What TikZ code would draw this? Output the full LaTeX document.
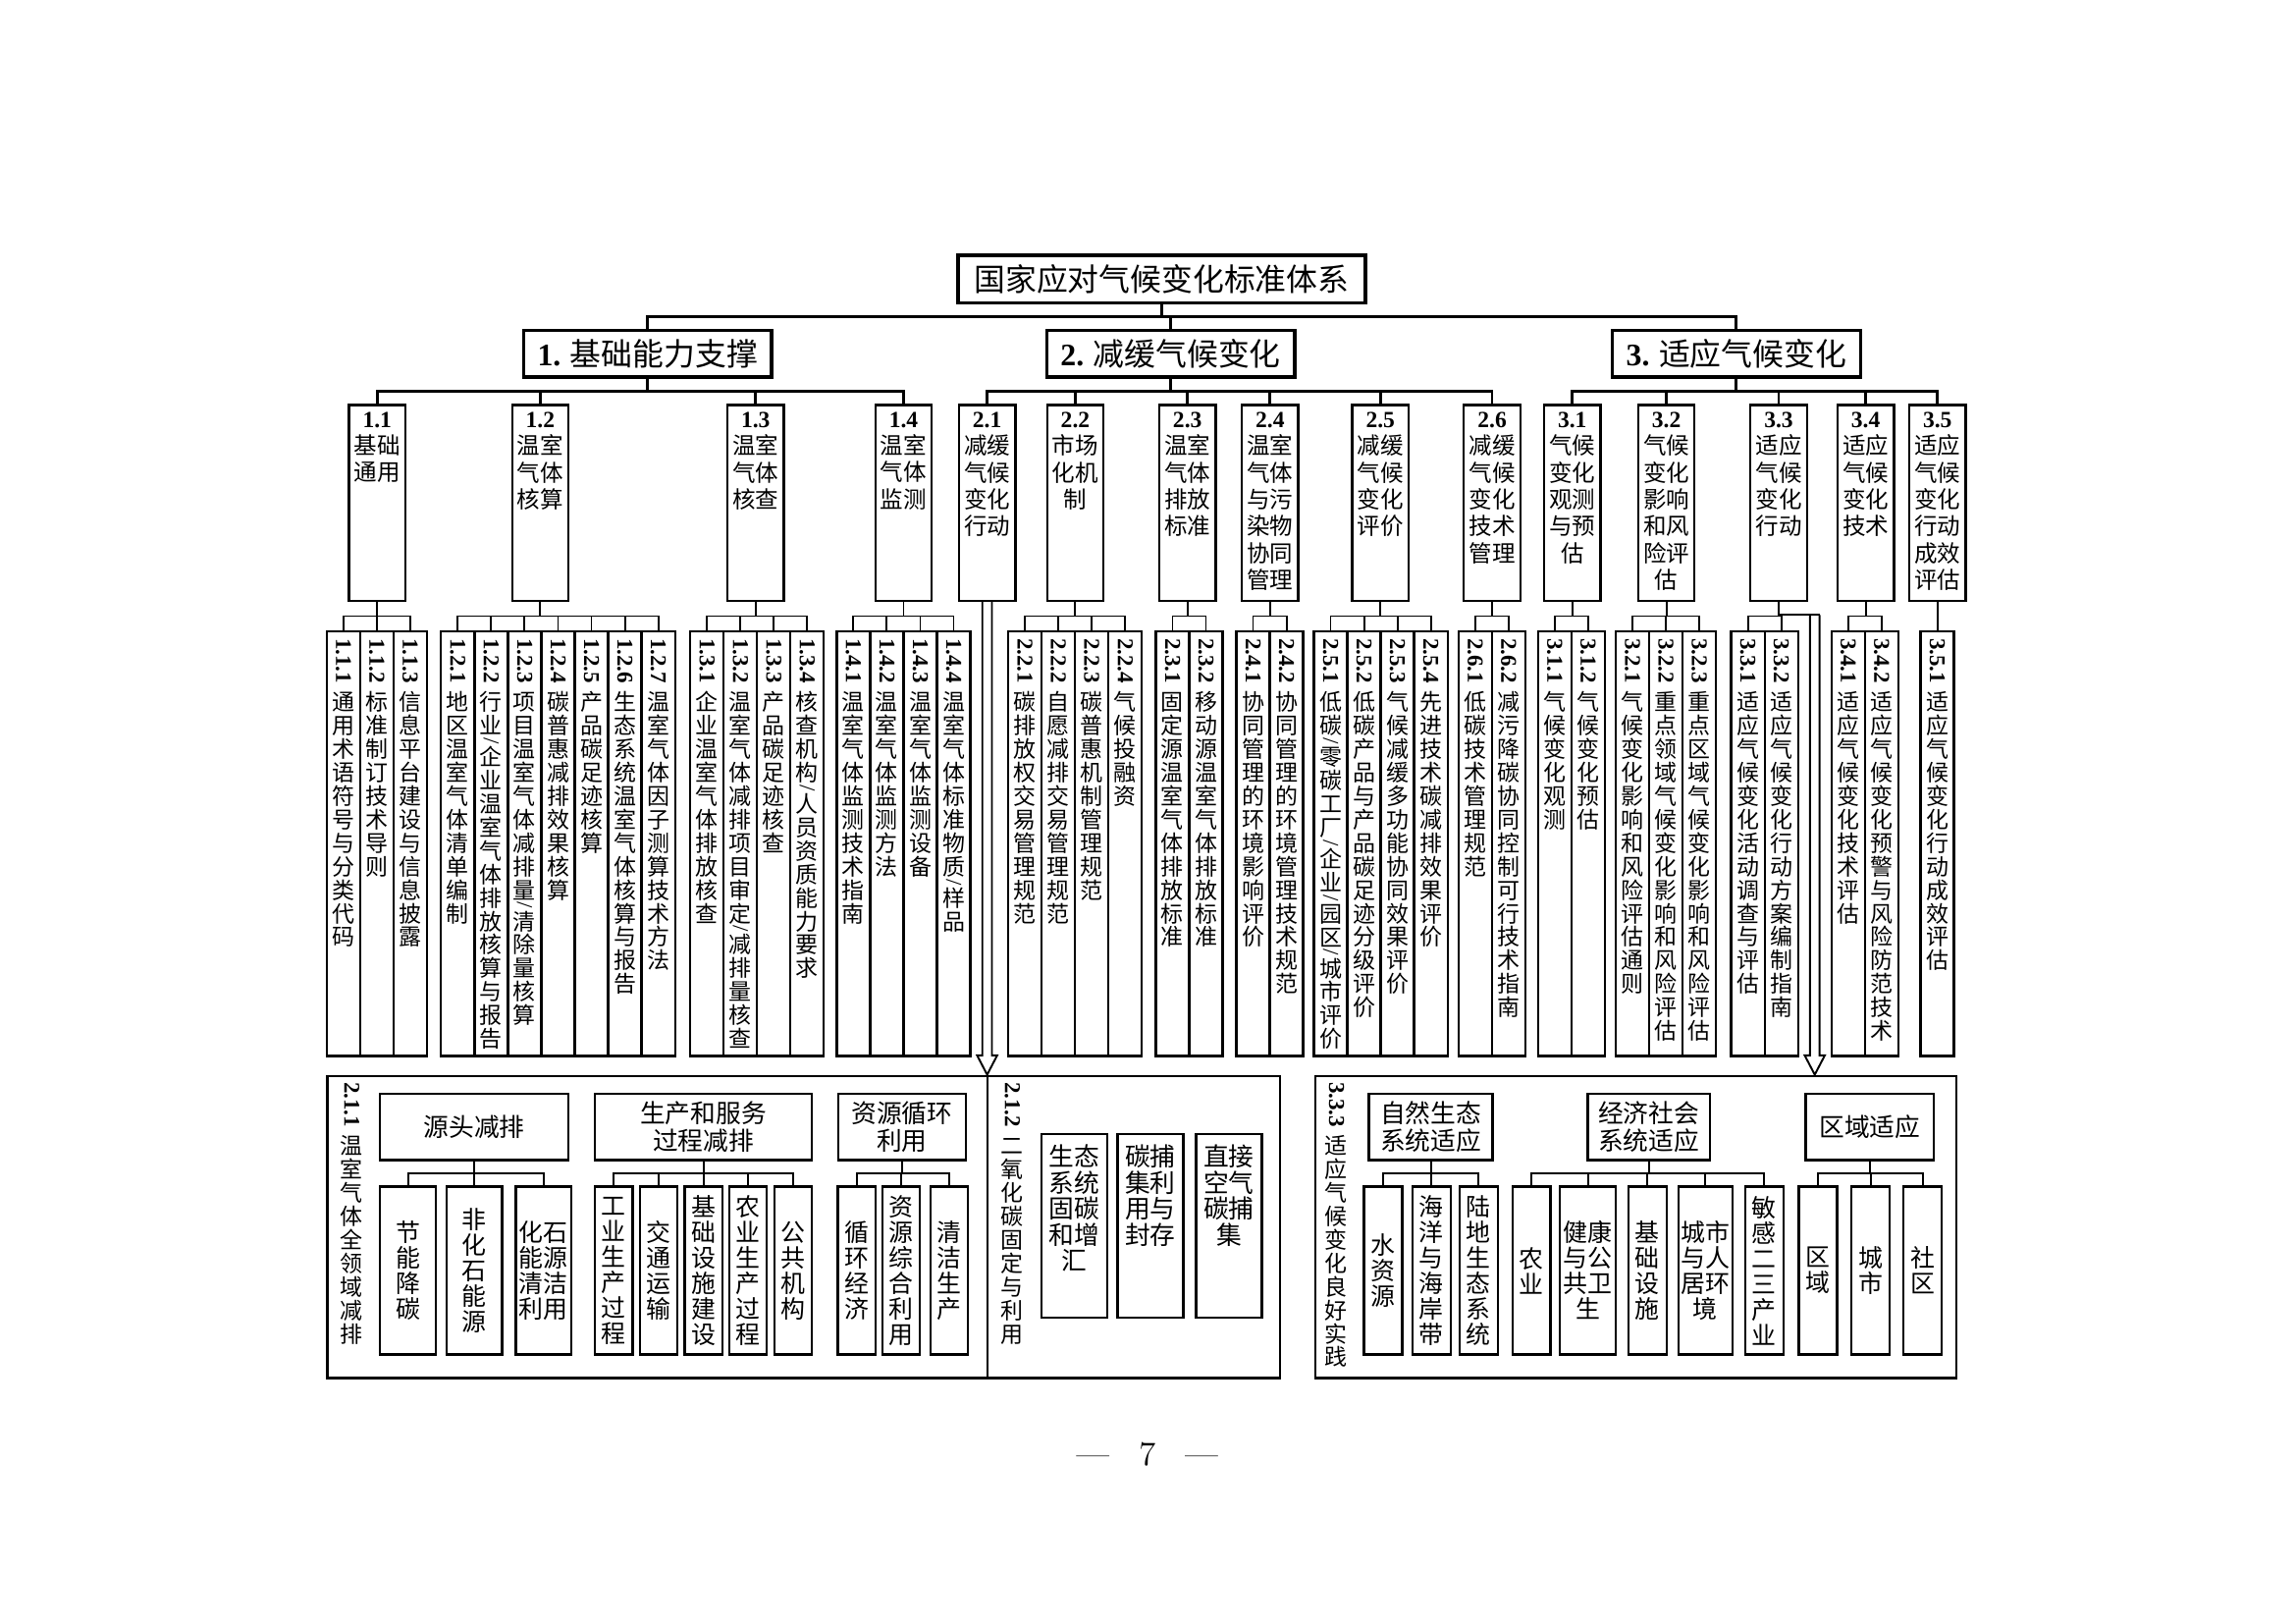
\documentclass[tikz,border=0pt]{standalone}
\usepackage{fontspec}
\usepackage{graphicx}
\newfontfamily\cjk{Noto Sans CJK SC}
\newfontfamily\numfont{Liberation Serif}
\usetikzlibrary{calc}

% vertical text: one glyph per line, numbers turned
\makeatletter
\def\vstack@#1{\ifx\@nil#1\else\ifx|#1\vslash\else\vcell{#1}\fi\expandafter\vstack@\fi}
\newcommand\vcell[1]{\hbox to 1.15em{\hss\vrule width0pt height.91em depth.13em\relax#1\hss}}
\newcommand\vslash{\hbox to 1.15em{\hss\vbox to .35em{\vss\hbox{\numfont\rotatebox{-90}{/}}\vss}\hss}}
\newcommand\vnum[1]{\hbox to 1.15em{\hss\rotatebox{-90}{\numfont\bfseries #1}\hss}}
\newcommand\vtitle[2]{\vbox{\offinterlineskip\kern.5mm\vnum{#1}\kern.3em\expandafter\vstack@#2\@nil}}
\newcommand\leaftext[2]{\vbox to 54.1mm{\vtitle{#1}{#2}\vss}}
\makeatother
\newcommand\subtext[2]{\vbox to 24.5mm{\hsize=6.4mm\parindent=0pt\centering\kern.5mm{\numfont\bfseries #1}\\#2\par\vss}}
\newcommand\toptext[1]{\vbox to 23mm{\hsize=2.1em\parindent=0pt\centering\kern1mm #1\par\vss}}
\newcommand\hollowarrow[2]{\draw[line width=.7pt] ([xshift=-.62mm]#1) -- ([xshift=-.62mm,yshift=2.5mm]#2) -- ([xshift=-1.3mm,yshift=2.5mm]#2) -- (#2) -- ([xshift=1.3mm,yshift=2.5mm]#2) -- ([xshift=.62mm,yshift=2.5mm]#2) -- ([xshift=.62mm]#1);}

\begin{document}
\begin{tikzpicture}[x=0.19038mm, y=-0.19038mm,
 rootbox/.style={draw, line width=1.2pt, minimum width=52.7mm, minimum height=6.15mm, inner sep=0pt, font=\cjk\fontsize{11.5}{13}\selectfont},
 groupbox/.style={draw, line width=1.2pt, minimum width=32.1mm, minimum height=6.05mm, inner sep=0pt, font=\cjk\fontsize{11.5}{13}\selectfont},
 subbox/.style={draw, line width=.8pt, anchor=north, minimum width=7.31mm, inner sep=.4mm, font=\cjk\fontsize{8.5}{9.9}\selectfont},
 leaf/.style={draw, line width=.8pt, anchor=north, minimum width=4.32mm, inner sep=.4mm, font=\cjk\fontsize{8.3}{8.3}\selectfont},
 paneltitle/.style={anchor=north, inner sep=.4mm, font=\cjk\fontsize{8.3}{8.3}\selectfont},
 panel/.style={draw, line width=.8pt, anchor=north west, minimum height=39.1mm, inner sep=0pt},
 headbox/.style={draw, line width=.8pt, minimum height=8.57mm, inner sep=.3mm, align=center, font=\cjk\fontsize{9.3}{9.9}\selectfont},
 itembox/.style={draw, line width=.8pt, minimum height=21.7mm, inner sep=.3mm, align=center, font=\cjk\fontsize{9}{9.4}\selectfont},
 sinkbox/.style={draw, line width=.8pt, anchor=north, minimum width=8.51mm, inner sep=.4mm, font=\cjk\fontsize{9.3}{9.6}\selectfont},
 elbow/.style={to path={|- ($(\tikztostart)!.5!(\tikztotarget)$) -| (\tikztotarget)}},
 link/.style={line width=.7pt},
 trunk/.style={line width=1pt}]

\useasboundingbox (0,0) rectangle (1560,1102.5);

\node[rootbox] (root) at (789.3,189.5) {国家应对气候变化标准体系};
\node[groupbox] (g1) at (440,240.3) {{\numfont\bfseries 1.} 基础能力支撑};
\node[groupbox] (g2) at (795.4,240.3) {{\numfont\bfseries 2.} 减缓气候变化};
\node[groupbox] (g3) at (1179.7,240.3) {{\numfont\bfseries 3.} 适应气候变化};
\foreach \g in {1,2,3} \draw[elbow, trunk] (root.south) to (g\g.north);

% second level
\foreach \id/\x/\nr/\tx in {11/256.3/1.1/基础\\通用, 12/367.1/1.2/温室\\气体\\核算, 13/513.4/1.3/温室\\气体\\核查, 14/613.9/1.4/温室\\气体\\监测,
 21/670.7/2.1/减缓\\气候\\变化\\行动, 22/730.6/2.2/市场\\化机\\制, 23/806.8/2.3/温室\\气体\\排放\\标准, 24/862.9/2.4/温室\\气体\\与污\\染物\\协同\\管理,
 25/937.9/2.5/减缓\\气候\\变化\\评价, 26/1013.8/2.6/减缓\\气候\\变化\\技术\\管理,
 31/1068.3/3.1/气候\\变化\\观测\\与预\\估, 32/1132.2/3.2/气候\\变化\\影响\\和风\\险评\\估, 33/1208.5/3.3/适应\\气候\\变化\\行动,
 34/1267.6/3.4/适应\\气候\\变化\\技术, 35/1316.4/3.5/适应\\气候\\变化\\行动\\成效\\评估}
 \node[subbox] (b\id) at (\x,274.4) {\subtext{\nr}{\tx}};

\foreach \g/\kids in {1/{11,12,13,14}, 2/{21,22,23,24,25,26}, 3/{31,32,33,34,35}}
 \foreach \k in \kids \draw[elbow, trunk] (g\g.south) to (b\k.north);

% third level
\foreach \p/\lx/\items in {
 11/221.9/{1.1.1/通用术语符号与分类代码,1.1.2/标准制订技术导则,1.1.3/信息平台建设与信息披露},
 12/299.7/{1.2.1/地区温室气体清单编制,1.2.2/行业|企业温室气体排放核算与报告,1.2.3/项目温室气体减排量|清除量核算,1.2.4/碳普惠减排效果核算,1.2.5/产品碳足迹核算,1.2.6/生态系统温室气体核算与报告,1.2.7/温室气体因子测算技术方法},
 13/469/{1.3.1/企业温室气体排放核查,1.3.2/温室气体减排项目审定|减排量核查,1.3.3/产品碳足迹核查,1.3.4/核查机构|人员资质能力要求},
 14/568.5/{1.4.1/温室气体监测技术指南,1.4.2/温室气体监测方法,1.4.3/温室气体监测设备,1.4.4/温室气体标准物质|样品},
 22/685/{2.2.1/碳排放权交易管理规范,2.2.2/自愿减排交易管理规范,2.2.3/碳普惠机制管理规范,2.2.4/气候投融资},
 23/785.3/{2.3.1/固定源温室气体排放标准,2.3.2/移动源温室气体排放标准},
 24/840/{2.4.1/协同管理的环境影响评价,2.4.2/协同管理的环境管理技术规范},
 25/892.7/{2.5.1/低碳|零碳工厂|企业|园区|城市评价,2.5.2/低碳产品与产品碳足迹分级评价,2.5.3/气候减缓多功能协同效果评价,2.5.4/先进技术碳减排效果评价},
 26/990.9/{2.6.1/低碳技术管理规范,2.6.2/减污降碳协同控制可行技术指南},
 31/1044.9/{3.1.1/气候变化观测,3.1.2/气候变化预估},
 32/1097.8/{3.2.1/气候变化影响和风险评估通则,3.2.2/重点领域气候变化影响和风险评估,3.2.3/重点区域气候变化影响和风险评估},
 33/1176.2/{3.3.1/适应气候变化活动调查与评估,3.3.2/适应气候变化行动方案编制指南},
 34/1244.4/{3.4.1/适应气候变化技术评估,3.4.2/适应气候变化预警与风险防范技术},
 35/1304.9/{3.5.1/适应气候变化行动成效评估}}{
 \foreach \nr/\tx [count=\i] in \items {
  \pgfmathsetmacro\cx{\lx+(\i-0.5)*22.7}
  \node[leaf] (c\p-\i) at (\cx,428.2) {\leaftext{\nr}{\tx}};
  \draw[elbow, link] (b\p.south) to (c\p-\i.north);
 }}

% lower panels
\node[panel, minimum width=123.2mm] (fA) at (221.7,730) {};
\node[panel, minimum width=82.9mm] (fB) at (893,730) {};
\coordinate (tip21) at (b21.south |- fA.north);
\draw[link] (tip21) -- (tip21 |- fA.south);
\hollowarrow{b21.south}{tip21}
\coordinate (k33) at (1233,417.75);
\draw[link] (b33.south) |- ([xshift=.62mm]k33);
\coordinate (tip33) at (k33 |- fB.north);
\hollowarrow{k33}{tip33}

\node[paneltitle] (lA) at (239,730) {\vtitle{2.1.1}{温室气体全领域减排}};
\node[paneltitle] (lB) at (687.8,730) {\vtitle{2.1.2}{二氧化碳固定与利用}};
\node[paneltitle] (lC) at (908,730) {\vtitle{3.3.3}{适应气候变化良好实践}};

\foreach \id/\x/\w/\tx in {hA1/322.3/24.37/源头减排, hA2/477.9/28.04/生产和服务\\过程减排, hA3/612.9/16.54/资源循环\\利用,
 hC1/972.1/16/自然生态\\系统适应, hC2/1120.2/15.8/经济社会\\系统适应, hC3/1270.5/16.6/区域适应}
 \node[headbox, minimum width=\w mm] (\id) at (\x,765.55) {\tx};

\foreach \id/\h/\x/\w/\tx in {
 iA1/hA1/277.2/7.2/节\\能\\降\\碳, iA2/hA1/322.2/7.2/非\\化\\石\\能\\源, iA3/hA1/369.4/7.2/化石\\能源\\清洁\\利用,
 iA4/hA2/417.1/4.87/工\\业\\生\\产\\过\\程, iA5/hA2/447.6/4.87/交\\通\\运\\输, iA6/hA2/478/4.87/基\\础\\设\\施\\建\\设,
 iA7/hA2/508.3/4.87/农\\业\\生\\产\\过\\程, iA8/hA2/538.9/4.87/公\\共\\机\\构,
 iA9/hA3/582/4.84/循\\环\\经\\济, iA10/hA3/612.4/4.84/资\\源\\综\\合\\利\\用, iA11/hA3/644.8/4.84/清\\洁\\生\\产,
 iC1/hC1/939.7/4.95/水\\资\\源, iC2/hC1/972.5/4.95/海\\洋\\与\\海\\岸\\带, iC3/hC1/1004.7/4.95/陆\\地\\生\\态\\系\\统,
 iC4/hC2/1040.5/4.95/农\\业, iC5/hC2/1078.8/7.15/健康\\与公\\共卫\\生, iC6/hC2/1119.4/4.95/基\\础\\设\\施,
 iC7/hC2/1158.7/6.85/城市\\与人\\居环\\境, iC8/hC2/1198.6/4.95/敏\\感\\二\\三\\产\\业,
 iC9/hC3/1235.2/4.95/区\\域, iC10/hC3/1271.1/4.95/城\\市, iC11/hC3/1306.3/4.95/社\\区}{
 \node[itembox, minimum width=\w mm] (\id) at (\x,863) {\tx};
 \draw[elbow, link] (\h.south) to (\id.north);
}

\foreach \id/\x/\tx in {iB1/729.8/生态\\系统\\固碳\\和增\\汇, iB2/781.6/碳捕\\集利\\用与\\封存, iB3/835/直接\\空气\\碳捕\\集}
 \node[sinkbox] (\id) at (\x,769.5) {\toptext{\tx}};

\node[font=\fontsize{12.5}{14}\selectfont] (page) at (779.5,988) {\textemdash\hspace{3.8mm}7\hspace{3.8mm}\textemdash};

\end{tikzpicture}
\end{document}
